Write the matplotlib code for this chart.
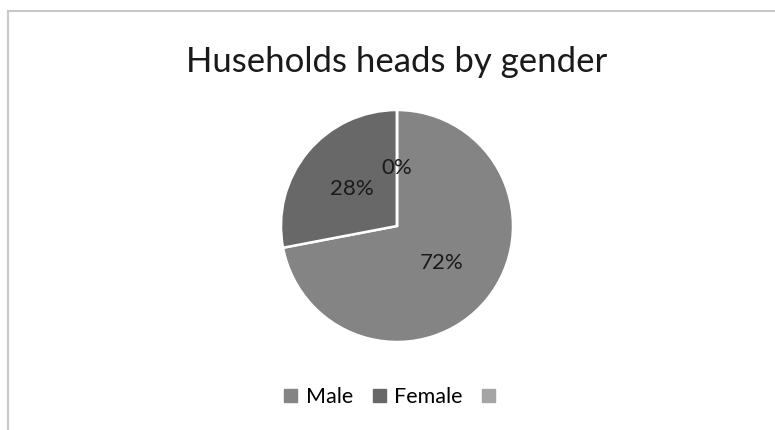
import matplotlib
matplotlib.use("Agg")
import matplotlib.pyplot as plt
from matplotlib.patches import Rectangle

title = "Huseholds heads by gender"
categories = ["Male", "Female", ""]
values = [72, 28, 0]
labels_pct = ["72%", "28%", "0%"]
colors = ["#848484", "#686868", "#a5a5a5"]

plt.rcParams['font.family'] = ['Lato', 'DejaVu Sans']

fig = plt.figure(figsize=(7.75, 4.3), dpi=100)
fig.patch.set_facecolor("white")

# chart border (top and left visible)
fig.add_artist(plt.Line2D([7.5/775, 7.5/775], [0, 1 - 10.5/430], transform=fig.transFigure,
                          color="#c8c8c8", lw=1.5))
fig.add_artist(plt.Line2D([7.5/775, 1], [1 - 10.5/430, 1 - 10.5/430], transform=fig.transFigure,
                          color="#c8c8c8", lw=1.5))

# pie axes: center (397, 226), radius ~116 px
r = 116
cx, cy = 397, 226
ax = fig.add_axes([(cx - r) / 775, (430 - cy - r) / 430, 2 * r / 775, 2 * r / 430])
wedges, texts = ax.pie(values, colors=colors, startangle=90, counterclock=False,
                       labels=labels_pct, labeldistance=0.5,
                       wedgeprops=dict(edgecolor="white", linewidth=1.8),
                       textprops=dict(fontsize=16, color="#1a1a1a", ha="center", va="center"))
ax.set_xlim(-1, 1)
ax.set_ylim(-1, 1)
ax.set_aspect("equal")

fig.text(397 / 775, 1 - 62 / 430, title, ha="center", va="center", fontsize=25, color="#1a1a1a")

handles = [Rectangle((0, 0), 1, 1, color=c) for c in colors]
fig.legend(handles, categories, loc="center", bbox_to_anchor=(394 / 775, 1 - 397 / 430),
           ncol=3, frameon=False, fontsize=15.5, handlelength=0.6, handleheight=0.6,
           handletextpad=0.4, columnspacing=0.9)

fig.savefig("out.png", dpi=100)
